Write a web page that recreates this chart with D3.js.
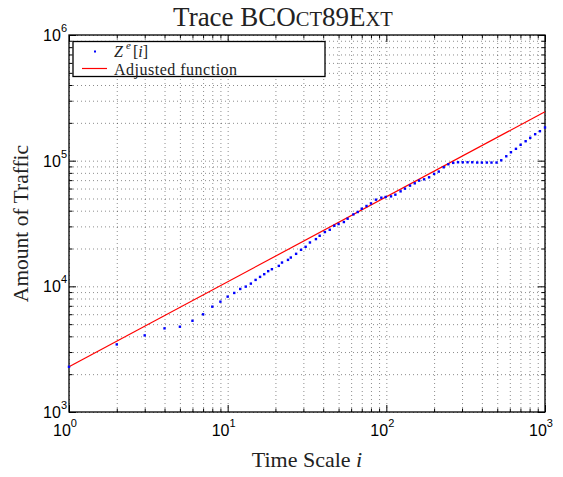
<!DOCTYPE html>
<html><head><meta charset="utf-8">
<script src="https://d3js.org/d3.v7.min.js"></script>
<style>
    body { margin: 0; background: white; }
    svg { display: block; }
    .grid line { stroke: #000; stroke-dasharray: 1,3; stroke-opacity: 0.45; }
    .grid path { display: none; }
    .ticks path { display: none; }
    .ticks line { stroke: #000; }
</style>
</head>
<body>
<svg id="chart"></svg>
<script>
    // Time scales i and the measured traffic Z^e[i]
    let scales = [1, 2, 3, 4, 5, 6, 7, 8, 9, 10, 11, 12, 13, 14, 15, 16, 17, 18, 19, 21, 22, 24, 25, 27, 29, 31, 33, 36, 38, 41,
        44, 47, 50, 54, 57, 62, 66, 70, 75, 80, 86, 93, 99, 107, 114, 123, 131, 141, 151, 161, 173, 186, 200, 214, 230, 246,
        264, 283, 303, 325, 348, 374, 400, 430, 460, 495, 530, 570, 610, 656, 702, 755, 807, 867, 929, 1000]
    let traffic = [2290, 3450, 4070, 4630, 4770, 5320, 5990, 6890, 7550, 8280, 8860, 9530, 9950, 10510, 11250, 11890, 12490,
        13200, 13690, 14550, 15460, 16240, 16950, 18140, 19530, 20630, 22330, 23760, 25250, 27030, 28190, 30340, 31310,
        32480, 34510, 37350, 39030, 41470, 43590, 45710, 48930, 50760, 51420, 51990, 53630, 57000, 59890, 63290, 66020,
        69370, 71050, 73700, 78460, 81850, 88600, 93600, 96030, 97100, 97100, 97100, 97100, 96600, 96600, 96600, 96600,
        96600, 100700, 108400, 116700, 124250, 133700, 142800, 152000, 162400, 171600, 183700]

    // adjusted function (straight line in log-log), end points
    let fitScales = [1, 1000]
    let fitTraffic = [2290, 245000]

    let xMajor = [1, 10, 100, 1000]
    let yMajor = [1e3, 1e4, 1e5, 1e6]

    let width = 563, height = 477
    let margin = {left: 69, right: 18, top: 35, bottom: 65}
    let svg = d3.select('#chart').attr('width', width).attr('height', height)

    let x = d3.scaleLog().domain([1, 1000]).range([margin.left, width - margin.right])
    let y = d3.scaleLog().domain([1e3, 1e6]).range([height - margin.bottom, margin.top])

    function minorsOf(majors) {
        let out = []
        for (let k = 0; k < majors.length - 1; k++)
            for (let m = 2; m <= 9; m++) out.push(majors[k] * m)
        return out
    }
    let xMinor = minorsOf(xMajor)
    let yMinor = minorsOf(yMajor)
    let x0 = margin.left, x1 = width - margin.right
    let y0 = height - margin.bottom, y1 = margin.top

    // grid (dotted, major and minor)
    svg.append('g').attr('class', 'grid')
        .attr('transform', `translate(0,${y0})`)
        .call(d3.axisBottom(x).tickValues(xMajor.concat(xMinor)).tickSize(-(y0 - y1)).tickFormat(''))
    svg.append('g').attr('class', 'grid')
        .attr('transform', `translate(${x0},0)`)
        .call(d3.axisLeft(y).tickValues(yMajor.concat(yMinor)).tickSize(-(x1 - x0)).tickFormat(''))

    // inward ticks on all sides
    function drawTicks(makeAxis, tr, values, size) {
        svg.append('g').attr('class', 'ticks').attr('transform', tr)
            .call(makeAxis().tickValues(values).tickSize(-size).tickFormat(''))
    }
    ;[[7, xMajor, yMajor], [3.5, xMinor, yMinor]].forEach(([size, xv, yv]) => {
        drawTicks(() => d3.axisBottom(x), `translate(0,${y0})`, xv, size)
        drawTicks(() => d3.axisTop(x), `translate(0,${y1})`, xv, size)
        drawTicks(() => d3.axisLeft(y), `translate(${x0},0)`, yv, size)
        drawTicks(() => d3.axisRight(y), `translate(${x1},0)`, yv, size)
    })

    // frame
    svg.append('rect').attr('x', x0).attr('y', y1).attr('width', x1 - x0).attr('height', y0 - y1)
        .attr('fill', 'none').attr('stroke', '#000').attr('stroke-width', 1.3)

    // tick labels 10^n
    let lblFont = 'Liberation Sans, Arial, sans-serif'
    xMajor.forEach(v => {
        let t = svg.append('text').attr('x', x(v) - 4).attr('y', y0 + 24)
            .attr('text-anchor', 'middle').attr('font-family', lblFont).attr('font-size', 16)
        t.append('tspan').text('10')
        t.append('tspan').attr('dy', -9).attr('font-size', 11).text(Math.round(Math.log10(v)))
    })
    yMajor.forEach(v => {
        let t = svg.append('text').attr('x', x0 - 2).attr('y', y(v) + 6)
            .attr('text-anchor', 'end').attr('font-family', lblFont).attr('font-size', 16)
        t.append('tspan').text('10')
        t.append('tspan').attr('dy', -9).attr('font-size', 11).text(Math.round(Math.log10(v)))
    })

    // fitted line
    let line = d3.line().x((d, k) => x(fitScales[k])).y(d => y(d))
    svg.append('path').datum(fitTraffic).attr('d', line)
        .attr('fill', 'none').attr('stroke', '#ff0000').attr('stroke-width', 1.2)

    // data points
    svg.append('g').selectAll('rect').data(traffic).enter().append('rect')
        .attr('x', (d, k) => x(scales[k]) - 1.2)
        .attr('y', d => y(d) - 1.2)
        .attr('width', 2.4).attr('height', 2.4)
        .attr('fill', '#0000ff')

    // title
    let serif = 'Liberation Serif, Times New Roman, serif'
    let title = svg.append('text').attr('x', 283).attr('y', 26)
        .attr('text-anchor', 'middle').attr('font-family', serif).attr('font-size', 27).attr('fill', '#222')
    title.append('tspan').text('Trace BCO')
    title.append('tspan').attr('font-size', 20.5).text('CT')
    title.append('tspan').text('89E')
    title.append('tspan').attr('font-size', 20.5).text('XT')

    // axis labels
    let xl = svg.append('text').attr('x', (x0 + x1) / 2).attr('y', 467)
        .attr('text-anchor', 'middle').attr('font-family', serif).attr('font-size', 22).attr('fill', '#222')
    xl.append('tspan').text('Time Scale ')
    xl.append('tspan').attr('font-style', 'italic').text('i')

    svg.append('text').attr('transform', `translate(28,${(y0 + y1) / 2}) rotate(-90)`)
        .attr('text-anchor', 'middle').attr('font-family', serif).attr('font-size', 21.5).attr('fill', '#222')
        .text('Amount of Traffic')

    // legend
    let lg = svg.append('g')
    lg.append('rect').attr('x', 73).attr('y', 41.5).attr('width', 252).attr('height', 35)
        .attr('fill', 'white').attr('stroke', '#000').attr('stroke-width', 1.3)
    lg.append('rect').attr('x', 94).attr('y', 50.5).attr('width', 2).attr('height', 2).attr('fill', '#0000ff')
    // Z^e[i], superscript drawn as its own text
    lg.append('text').attr('x', 114).attr('y', 56.5).attr('font-family', serif).attr('font-size', 16)
        .attr('font-style', 'italic').attr('fill', '#222').text('Z')
    lg.append('text').attr('x', 126).attr('y', 49).attr('font-family', serif).attr('font-size', 11)
        .attr('font-style', 'italic').attr('fill', '#222').text('e')
    let lt = lg.append('text').attr('x', 133).attr('y', 56.5).attr('font-family', serif).attr('font-size', 16).attr('fill', '#222')
    lt.append('tspan').text('[')
    lt.append('tspan').attr('font-style', 'italic').text('i')
    lt.append('tspan').text(']')
    lg.append('line').attr('x1', 82).attr('x2', 107).attr('y1', 68.5).attr('y2', 68.5)
        .attr('stroke', '#ff0000').attr('stroke-width', 1.2)
    lg.append('text').attr('x', 114).attr('y', 74.5).attr('font-family', serif).attr('font-size', 16)
        .attr('letter-spacing', 0.5).attr('fill', '#222')
        .text('Adjusted function')
</script>
</body></html>
